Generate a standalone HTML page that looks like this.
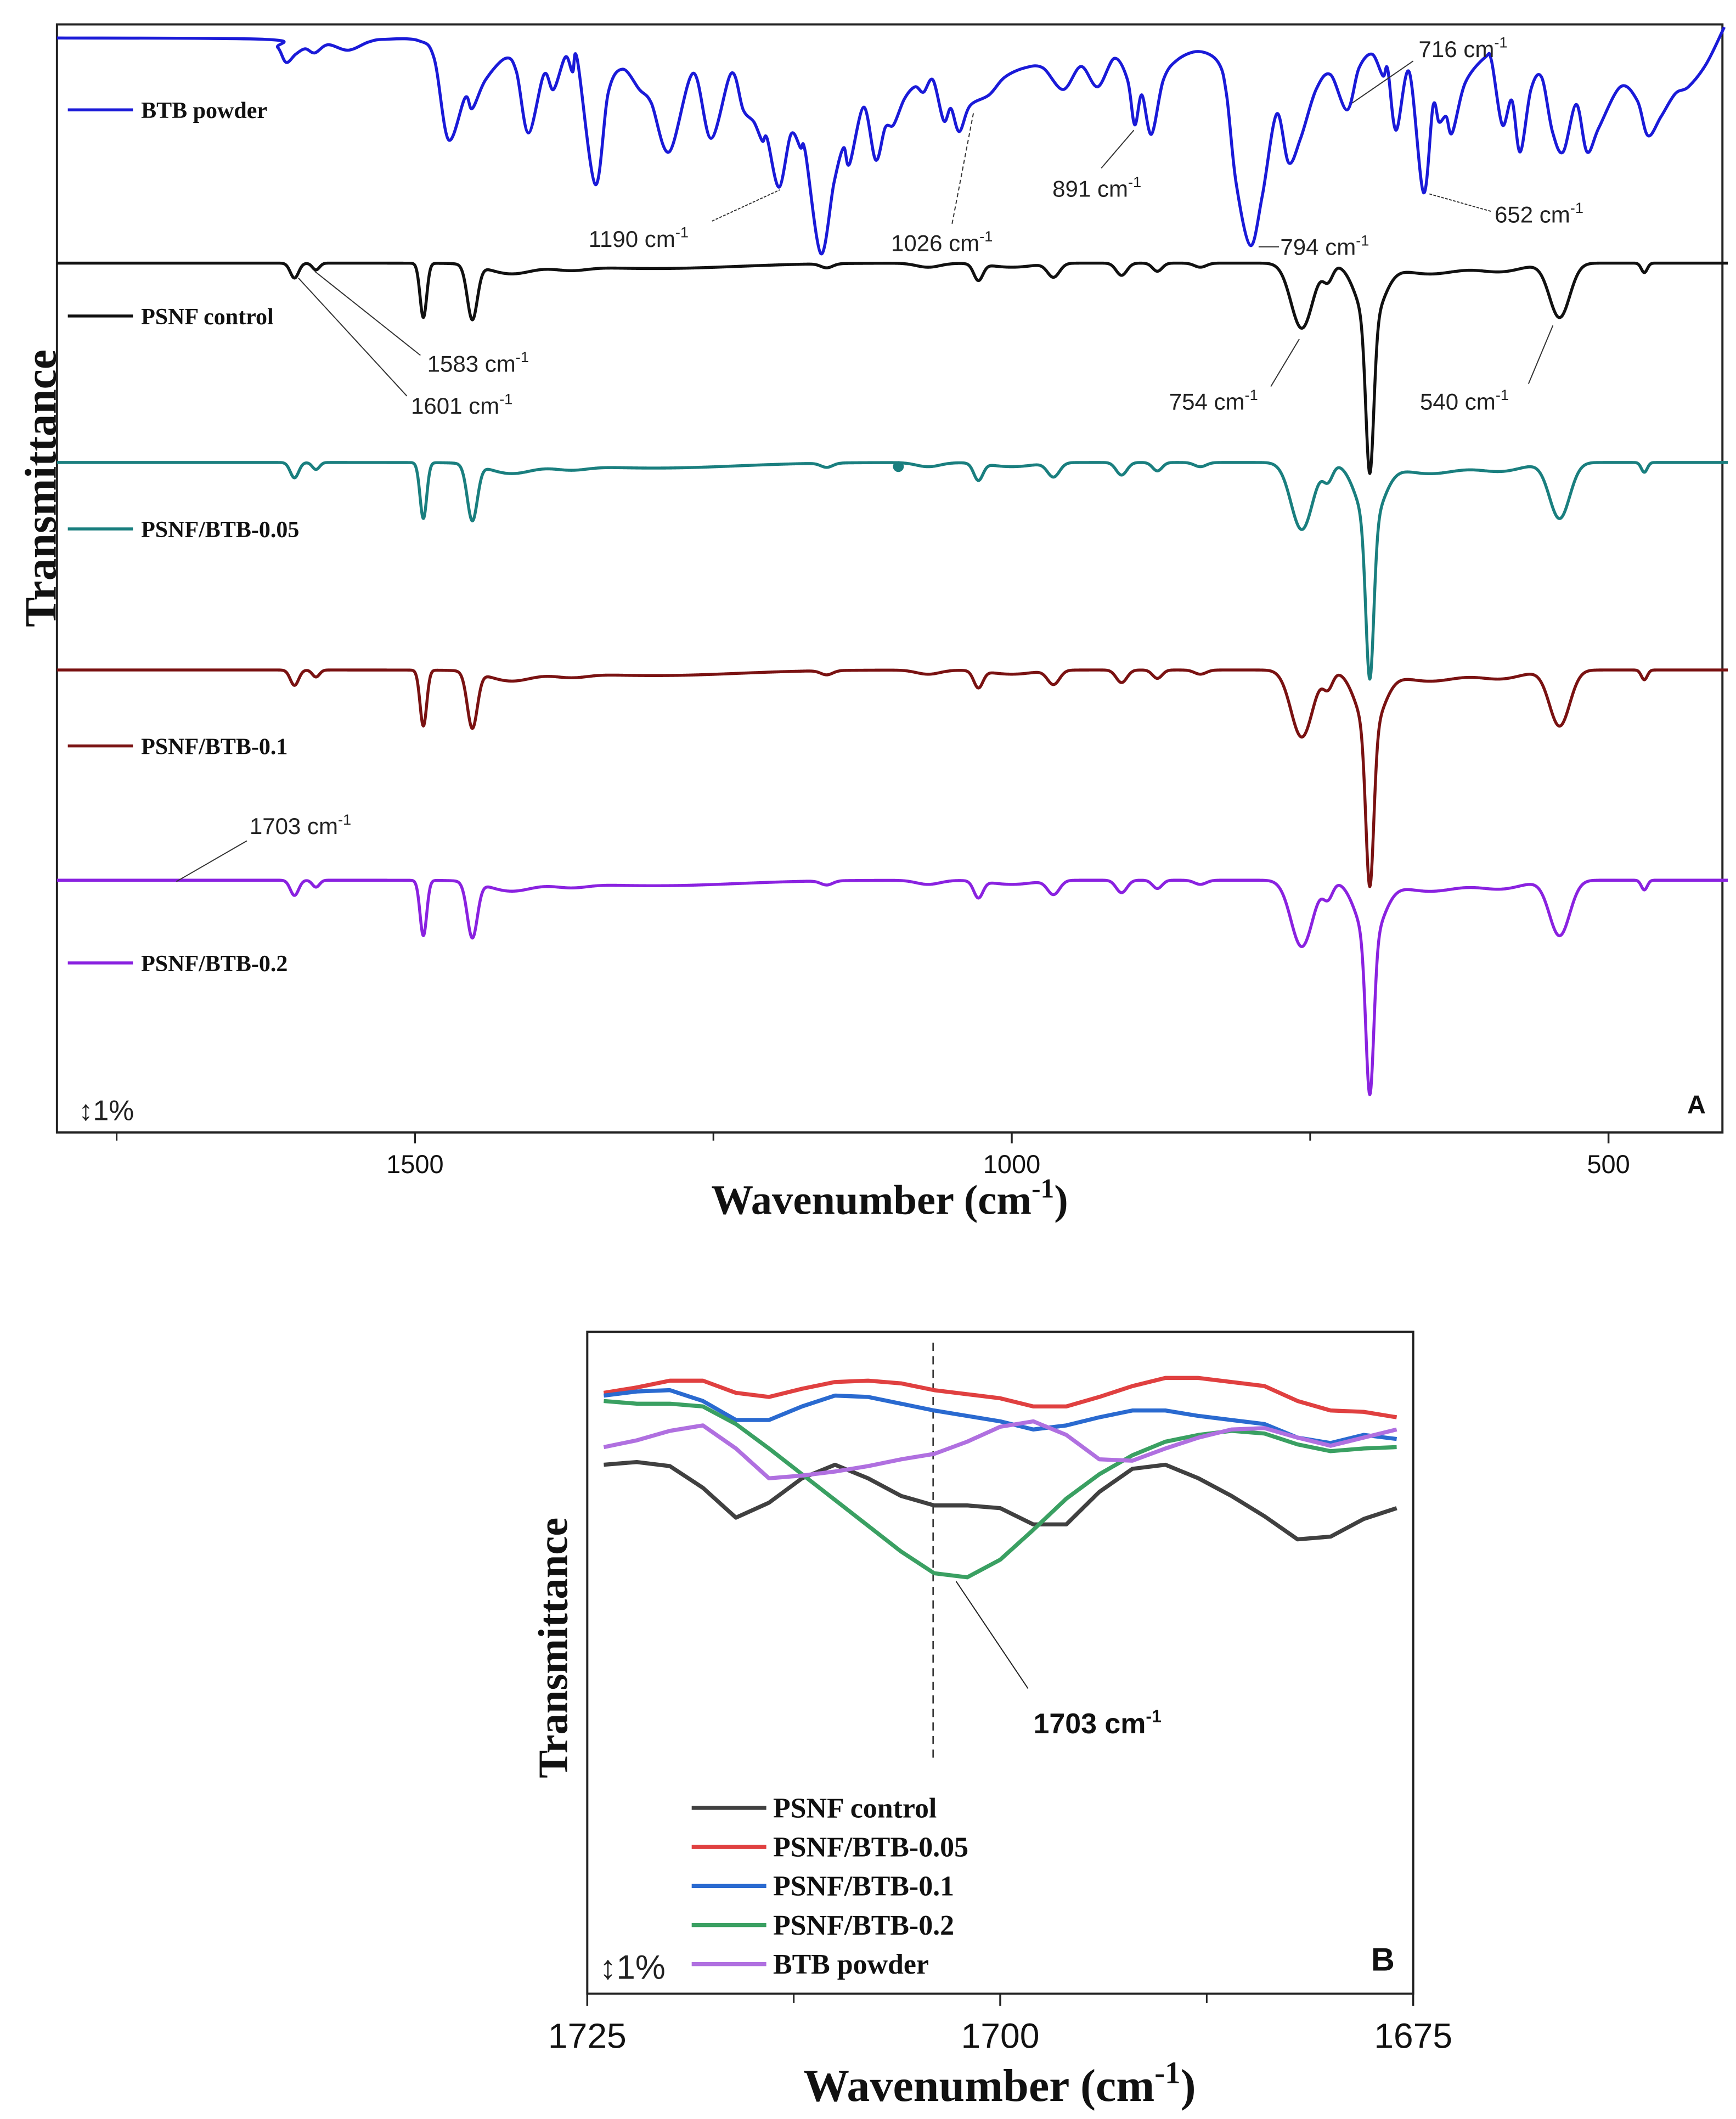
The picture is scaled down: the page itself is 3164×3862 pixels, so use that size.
<!DOCTYPE html>
<html><head><meta charset="utf-8"><style>
html,body{margin:0;padding:0;background:#fff}
svg{display:block}
.ann{font-family:"Liberation Sans",Arial,sans-serif;font-size:17px;fill:#222}
.leg{font-family:"Liberation Serif",serif;font-weight:bold;font-size:17px;fill:#111}
.legB{font-family:"Liberation Serif",serif;font-weight:bold;font-size:21px;fill:#111}
.tick{font-family:"Liberation Sans",Arial,sans-serif;fill:#111}
.title{font-family:"Liberation Serif",serif;font-weight:bold;fill:#111}
</style></head><body>
<svg id="chart" width="3164" height="3862" viewBox="0 0 1280 1562.4" xmlns="http://www.w3.org/2000/svg">
<rect x="0" y="0" width="1280" height="1563" fill="#fff"/>
<g id="panelA">
<rect x="42" y="18" width="1228" height="817" fill="none" stroke="#222" stroke-width="1.6"/>
<g id="aTicks"></g>
<g id="aCurves"></g>
<g stroke="#333" stroke-width="0.8" fill="none">
<line x1="1042" y1="45" x2="997" y2="76"/>
<line x1="525" y1="163" x2="575" y2="140" stroke-dasharray="2,1"/>
<line x1="702" y1="165" x2="718" y2="82" stroke-dasharray="3,2"/>
<line x1="812" y1="124" x2="836" y2="96"/>
<line x1="1054" y1="143" x2="1100" y2="156" stroke-dasharray="2,1"/>
<line x1="928" y1="182" x2="943" y2="182"/>
<line x1="232" y1="200" x2="310" y2="262"/>
<line x1="220" y1="205" x2="300" y2="292"/>
<line x1="958" y1="250" x2="937" y2="285"/>
<line x1="1145" y1="240" x2="1127" y2="283"/>
<line x1="130" y1="650" x2="182" y2="620"/>
</g>
<g>
<text class="ann" x="1046" y="42">716 cm<tspan dy="-7" font-size="11">-1</tspan></text>
<text class="ann" x="434" y="182">1190 cm<tspan dy="-7" font-size="11">-1</tspan></text>
<text class="ann" x="657" y="185">1026 cm<tspan dy="-7" font-size="11">-1</tspan></text>
<text class="ann" x="776" y="145">891 cm<tspan dy="-7" font-size="11">-1</tspan></text>
<text class="ann" x="1102" y="164">652 cm<tspan dy="-7" font-size="11">-1</tspan></text>
<text class="ann" x="944" y="188">794 cm<tspan dy="-7" font-size="11">-1</tspan></text>
<text class="ann" x="315" y="274">1583 cm<tspan dy="-7" font-size="11">-1</tspan></text>
<text class="ann" x="303" y="305">1601 cm<tspan dy="-7" font-size="11">-1</tspan></text>
<text class="ann" x="862" y="302">754 cm<tspan dy="-7" font-size="11">-1</tspan></text>
<text class="ann" x="1047" y="302">540 cm<tspan dy="-7" font-size="11">-1</tspan></text>
<text class="ann" x="184" y="615">1703 cm<tspan dy="-7" font-size="11">-1</tspan></text>
</g>
<g>
<line x1="50" y1="81" x2="98" y2="81" stroke="#1a1ad8" stroke-width="2.2"/><text class="leg" x="104" y="87">BTB powder</text>
<line x1="50" y1="233" x2="98" y2="233" stroke="#111" stroke-width="2.2"/><text class="leg" x="104" y="239">PSNF control</text>
<line x1="50" y1="390" x2="98" y2="390" stroke="#1a7f7f" stroke-width="2.2"/><text class="leg" x="104" y="396">PSNF/BTB-0.05</text>
<line x1="50" y1="550" x2="98" y2="550" stroke="#7a1212" stroke-width="2.2"/><text class="leg" x="104" y="556">PSNF/BTB-0.1</text>
<line x1="50" y1="710" x2="98" y2="710" stroke="#8a22e0" stroke-width="2.2"/><text class="leg" x="104" y="716">PSNF/BTB-0.2</text>
</g>
<text x="58" y="826" font-family="Liberation Sans, DejaVu Sans, sans-serif" font-size="21" fill="#222">↕1%</text>
<text x="1244" y="821" font-family="Liberation Sans, sans-serif" font-weight="bold" font-size="19" fill="#111">A</text>
<text class="title" style="font-size:33px" transform="translate(41,360) rotate(-90)" text-anchor="middle">Transmittance</text>
<text class="title" style="font-size:31px" x="656" y="895" text-anchor="middle">Wavenumber (cm<tspan dy="-12" font-size="20">-1</tspan><tspan dy="12">)</tspan></text>
</g>
<g id="panelB">
<rect x="433" y="982" width="609" height="488" fill="none" stroke="#222" stroke-width="1.6"/>
<line x1="688" y1="990" x2="688" y2="1300" stroke="#222" stroke-width="1" stroke-dasharray="6,4"/>
<g id="bTicks"></g>
<g id="bCurves"></g>
<line x1="705" y1="1166" x2="758" y2="1245" stroke="#222" stroke-width="0.8"/>
<text x="762" y="1278" font-family="Liberation Sans, sans-serif" font-weight="bold" font-size="21" fill="#111">1703 cm<tspan dy="-8" font-size="13">-1</tspan></text>
<g id="bLegend"></g>
<text x="442" y="1459" font-family="Liberation Sans, DejaVu Sans, sans-serif" font-size="25" fill="#222">↕1%</text>
<text x="1011" y="1453" font-family="Liberation Sans, sans-serif" font-weight="bold" font-size="24" fill="#111">B</text>
<text class="title" style="font-size:31px" transform="translate(418,1215) rotate(-90)" text-anchor="middle">Transmittance</text>
<text class="title" style="font-size:34px" x="737" y="1549" text-anchor="middle">Wavenumber (cm<tspan dy="-13" font-size="23">-1</tspan><tspan dy="13">)</tspan></text>
</g>
</svg>
<script>
// ---------- Panel A data ----------
const aTickValues = [1500, 1000, 500];
const aMinorTicks = [1750, 1250, 750];
// BTB powder spectrum: wavenumber (cm-1) and relative transmittance
const btbWn = [1800,1626,1615,1608,1600,1592,1584,1573,1556,1539,1526,1497,1484,1472,1458,1452,1441,1424,1415,1405,1392,1384,1374,1368,1364,1349,1338,1326,1312,1302,1287,1267,1252,1235,1225,1216,1209,1205,1195,1185,1177,1173,1160,1149,1141,1136,1124,1114,1106,1099,1090,1081,1074,1066,1057,1051,1044,1035,1019,1006,989,974,957,942,928,914,903,897,891,883,873,861,843,827,820,812,800,790,778,768,758,745,733,719,709,698,689,685,678,667,655,647,642,636,631,620,603,598,589,581,574,565,556,547,538,527,518,508,490,476,467,456,444,433,418,403];
const btbT = [807,806,800,789,795,799,796,802,798,804,806,805,792,732,763,755,776,792,782,737,780,769,793,782,791,699,767,784,769,759,723,781,733,781,754,745,731,733,697,736,726,723,648,700,726,714,756,717,741,743,762,771,767,776,746,755,738,757,765,778,785,785,769,786,771,792,776,743,765,736,776,791,797,789,765,700,654,691,751,715,733,769,780,754,785,795,779,784,739,782,693,757,745,749,737,774,793,790,743,761,723,769,778,738,723,758,723,741,771,761,735,749,766,771,788,815];
// Polystyrene film bands: centre (cm-1), depth, width (sigma, cm-1)
const psPeakPos = [1601,1583,1493,1452,1420,1370,1300,1155,1070,1028,1000,965,908,878,842,757,735,700,700,650,590,541,470];
const psPeakDepth = [11,5,40,40,7,3,4,3,3,12,3,10,9,6,3,48,12,112,42,8,6,40,7];
const psPeakWidth = [3.5,3,2.8,4.2,18,14,70,5,10,3.8,18,5,4.5,4,5,9,4,3.3,11,25,18,8.5,2.5];
const psSeriesNames = ["PSNF control","PSNF/BTB-0.05","PSNF/BTB-0.1","PSNF/BTB-0.2"];
const psSeriesBaseline = [641,494,341,186];
const psSeriesScale = [1.0,1.03,1.03,1.02];
const psSeriesColors = ["#111111","#1a7f7f","#7a1212","#8a22e0"];

// ---------- Panel B data ----------
const bWn = [1724,1722,1720,1718,1716,1714,1712,1710,1708,1706,1704,1702,1700,1698,1696,1694,1692,1690,1688,1686,1684,1682,1680,1678,1676];
const bNames = ["PSNF control","PSNF/BTB-0.05","PSNF/BTB-0.1","PSNF/BTB-0.2","BTB powder"];
const bColors = ["#404040","#e04040","#2a6ad0","#3aa062","#b070e0"];
const bControl = [390,392,389,373,351,362,380,390,380,367,360,360,358,346,346,370,387,390,380,367,352,335,337,350,358];
const bBtb005 = [443,447,452,452,443,440,446,451,452,450,445,442,439,433,433,440,448,454,454,451,448,437,430,429,425];
const bBtb01 = [441,444,445,437,423,423,433,441,440,435,430,426,422,416,419,425,430,430,426,423,420,410,406,412,409];
const bBtb02 = [437,435,435,433,420,402,383,364,345,326,310,307,320,342,365,383,397,407,412,415,413,405,400,402,403];
const bBtbPowder = [403,408,415,419,402,380,382,385,389,394,398,407,418,422,412,394,393,402,410,416,417,410,404,410,416];
const bSeries = [bControl,bBtb005,bBtb01,bBtb02,bBtbPowder];

// ---------- scales ----------
const xA = wn => 42 + (1800 - wn) * 0.88;
const yA = v => 835 - v;
const xB = wn => 433 + (1725 - wn) * 12.18;
const yB = v => 1470 - v;
const NS = "http://www.w3.org/2000/svg";

function smoothPath(pts){
  let d = "M" + pts[0][0].toFixed(2) + "," + pts[0][1].toFixed(2);
  for(let i=0;i<pts.length-1;i++){
    const p0=pts[Math.max(0,i-1)],p1=pts[i],p2=pts[i+1],p3=pts[Math.min(pts.length-1,i+2)];
    const c1x=p1[0]+(p2[0]-p0[0])/6,c1y=p1[1]+(p2[1]-p0[1])/6;
    const c2x=p2[0]-(p3[0]-p1[0])/6,c2y=p2[1]-(p3[1]-p1[1])/6;
    d+="C"+c1x.toFixed(2)+","+c1y.toFixed(2)+" "+c2x.toFixed(2)+","+c2y.toFixed(2)+" "+p2[0].toFixed(2)+","+p2[1].toFixed(2);
  }
  return d;
}

// Panel A ticks
const aTicks = document.getElementById('aTicks');
aTickValues.forEach(t=>{
  const l=document.createElementNS(NS,'line');
  
  
  l.setAttribute('x1',xA(t));l.setAttribute('x2',xA(t));l.setAttribute('y1',835);l.setAttribute('y2',843);
  l.setAttribute('stroke','#222');l.setAttribute('stroke-width','1.4');aTicks.appendChild(l);
  const tx=document.createElementNS(NS,'text');
  
  
  tx.setAttribute('x',xA(t));tx.setAttribute('y',865);tx.setAttribute('text-anchor','middle');tx.setAttribute('class','tick');tx.setAttribute('style','font-size:19px');
  tx.textContent=t;aTicks.appendChild(tx);
});
aMinorTicks.forEach(t=>{
  const l=document.createElementNS(NS,'line');
  
  
  l.setAttribute('x1',xA(t));l.setAttribute('x2',xA(t));l.setAttribute('y1',835);l.setAttribute('y2',841);
  l.setAttribute('stroke','#222');l.setAttribute('stroke-width','1.2');aTicks.appendChild(l);
});

// Panel A curves
const aCurves=document.getElementById('aCurves');
psSeriesNames.forEach((name,si)=>{
  const pts=[];
  for(let wn=1800;wn>=400;wn-=0.5){
    let v=psSeriesBaseline[si];
    for(let k=0;k<psPeakPos.length;k++){
      const z=(wn-psPeakPos[k])/psPeakWidth[k];
      v-=psSeriesScale[si]*psPeakDepth[k]*Math.exp(-0.5*z*z);
    }
    pts.push([xA(wn),yA(v)]);
  }
  const p=document.createElementNS(NS,'path');
  
  
  p.setAttribute('d','M'+pts.map(q=>q[0].toFixed(2)+','+q[1].toFixed(2)).join('L'));
  p.setAttribute('fill','none');p.setAttribute('stroke',psSeriesColors[si]);p.setAttribute('stroke-width','2.2');p.setAttribute('stroke-linejoin','round');
  aCurves.appendChild(p);
});
const btbPts=btbWn.map((w,i)=>[xA(w),yA(btbT[i])]);
const bp=document.createElementNS(NS,'path');


bp.setAttribute('d',smoothPath(btbPts));
bp.setAttribute('fill','none');bp.setAttribute('stroke','#1a1ad8');bp.setAttribute('stroke-width','2.2');bp.setAttribute('stroke-linejoin','round');
aCurves.appendChild(bp);
const dot=document.createElementNS(NS,'circle');


dot.setAttribute('cx',xA(1095));dot.setAttribute('cy',yA(psSeriesBaseline[1]-3));dot.setAttribute('r','4');dot.setAttribute('fill','#1a7f7f');
aCurves.appendChild(dot);

// Panel B ticks
const bTicks=document.getElementById('bTicks');
[1725,1700,1675].forEach(t=>{
  const l=document.createElementNS(NS,'line');
  
  
  l.setAttribute('x1',xB(t));l.setAttribute('x2',xB(t));l.setAttribute('y1',1470);l.setAttribute('y2',1479);
  l.setAttribute('stroke','#222');l.setAttribute('stroke-width','1.4');bTicks.appendChild(l);
  const tx=document.createElementNS(NS,'text');
  
  
  tx.setAttribute('x',xB(t));tx.setAttribute('y',1510);tx.setAttribute('text-anchor','middle');tx.setAttribute('class','tick');tx.setAttribute('style','font-size:26px');
  tx.textContent=t;bTicks.appendChild(tx);
});
[1712.5,1687.5].forEach(t=>{
  const l=document.createElementNS(NS,'line');
  
  
  l.setAttribute('x1',xB(t));l.setAttribute('x2',xB(t));l.setAttribute('y1',1470);l.setAttribute('y2',1477);
  l.setAttribute('stroke','#222');l.setAttribute('stroke-width','1.2');bTicks.appendChild(l);
});

// Panel B curves and legend
const bCurves=document.getElementById('bCurves');
const bLegend=document.getElementById('bLegend');
bSeries.forEach((vals,si)=>{
  const p=document.createElementNS(NS,'polyline');
  
  
  p.setAttribute('points',vals.map((v,i)=>xB(bWn[i]).toFixed(2)+','+yB(v).toFixed(2)).join(' '));
  p.setAttribute('fill','none');p.setAttribute('stroke',bColors[si]);p.setAttribute('stroke-width','3');p.setAttribute('stroke-linejoin','round');
  bCurves.appendChild(p);
  const ly=1333+si*28.8;
  const l=document.createElementNS(NS,'line');
  
  
  l.setAttribute('x1',510);l.setAttribute('x2',565);l.setAttribute('y1',ly);l.setAttribute('y2',ly);
  l.setAttribute('stroke',bColors[si]);l.setAttribute('stroke-width','3');bLegend.appendChild(l);
  const t=document.createElementNS(NS,'text');
  
  
  t.setAttribute('x',570);t.setAttribute('y',ly+7);t.setAttribute('class','legB');
  t.textContent=bNames[si];bLegend.appendChild(t);
});
</script>
</body></html>
